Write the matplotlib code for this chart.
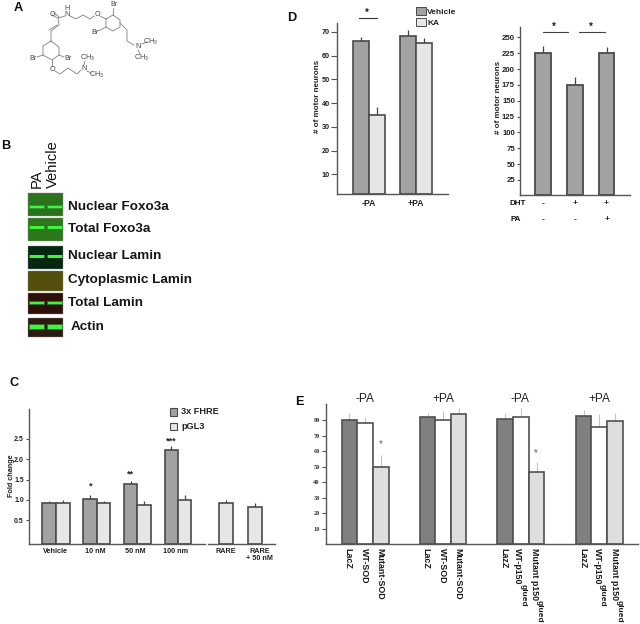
import matplotlib
matplotlib.use("Agg")
import matplotlib.pyplot as plt
from matplotlib.patches import Rectangle

plt.rcParams['font.family'] = ['Liberation Sans', 'DejaVu Sans']
plt.rcParams['mathtext.fontset'] = 'custom'
plt.rcParams['mathtext.rm'] = 'Liberation Sans'
plt.rcParams['mathtext.default'] = 'regular'

# ---------- data ----------
c_dark_labels = ['Vehicle', '10 nM', '50 nM', '100 nm']
c_fhre = [0.92, 1.03, 1.38, 2.22]
c_fhre_top = [0.97, 1.11, 1.47, 2.31]
c_pgl3 = [0.92, 0.92, 0.88, 1.01]
c_pgl3_top = [0.99, 0.97, 0.97, 1.12]
c_rare_labels = ['RARE', 'RARE\n+ 50 nM']
c_rare = [0.92, 0.84]
c_rare_top = [1.01, 0.93]
c_yticks = [0.5, 1.0, 1.5, 2.0, 2.5]

d1_labels = ['-PA', '+PA']
d1_vehicle = [66, 68.5]
d1_vehicle_top = [67.8, 70.8]
d1_ka = [35, 65.5]
d1_ka_top = [38.5, 67.3]
d1_yticks = [10, 20, 30, 40, 50, 60, 70]

d2_values = [225, 175, 225]
d2_top = [237, 188, 235]
d2_yticks = [25, 50, 75, 100, 125, 150, 175, 200, 225, 250]
d2_dht = ['-', '+', '+']
d2_pa = ['-', '-', '+']

e_labels_sod = ['LacZ', 'WT-SOD', 'Mutant-SOD']
e_labels_p150 = ['LazZ', 'WT-p150', 'Mutant p150']
e_superscript = 'glued'
e_sod_minus = [80, 78, 50]
e_sod_minus_top = [84.3, 81.7, 57.5]
e_sod_plus = [82, 80, 84]
e_sod_plus_top = [84.7, 86, 87.7]
e_p150_minus = [80.5, 82, 46.6]
e_p150_minus_top = [84.7, 87.5, 52.8]
e_p150_plus = [82.5, 75.7, 79.6]
e_p150_plus_top = [86.4, 83.9, 84.3]
e_yticks = [10, 20, 30, 40, 50, 60, 70, 80]

blot_labels = ['Nuclear Foxo3a', 'Total Foxo3a', 'Nuclear Lamin',
               'Cytoplasmic Lamin', 'Total Lamin', 'Actin']

# ---------- layout ----------
W, H = 640, 624
fig = plt.figure(figsize=(W / 100, H / 100), dpi=100, facecolor='white')

DARK, LIGHT, EDGE = '#a2a2a2', '#e6e6e6', '#4a4a4a'
E_DARK, E_LIGHT, E_EDGE = '#808080', '#dedede', '#505050'
AXC = '#555555'

ov = fig.add_axes([0, 0, 1, 1], zorder=10)
ov.set_xlim(0, W)
ov.set_ylim(H, 0)
ov.axis('off')
ov.patch.set_alpha(0)


def px_axes(x0, x1, ytop, ybot, vbot, vtop, left=True, ticklen=2.4):
    ax = fig.add_axes([x0 / W, 1 - ybot / H, (x1 - x0) / W, (ybot - ytop) / H])
    ax.set_xlim(x0, x1)
    ax.set_ylim(vbot, vtop)
    ax.patch.set_alpha(0)
    for s in ('top', 'right'):
        ax.spines[s].set_visible(False)
    for s in ('left', 'bottom'):
        ax.spines[s].set_color(AXC)
        ax.spines[s].set_linewidth(1.0)
    ax.spines['left'].set_visible(left)
    ax.tick_params(axis='x', length=0)
    ax.tick_params(axis='y', length=ticklen, width=0.8, color=AXC, pad=1.2)
    return ax


def bars(ax, edges, vals, tops, colors, edgecolor=EDGE, errc='#444444', elw=0.9, lw=1.2):
    base = ax.get_ylim()[0]
    for (a, b), v, t, c in zip(edges, vals, tops, colors):
        ax.bar((a + b) / 2, v - base, width=b - a, bottom=base,
               color=c, edgecolor=edgecolor, linewidth=lw, zorder=2)
        ax.errorbar((a + b) / 2, v, yerr=[[0], [t - v]], ecolor=errc, elinewidth=elw,
                    capsize=0, fmt='none', zorder=1)


def ylab(ax, text, xpx, ypx, size):
    ax.set_ylabel(text, fontsize=size, fontweight='bold', color='#222222')
    ax.yaxis.set_label_coords(xpx, ypx, transform=ov.transData)
    ax.yaxis.label.set_va('center')


for l, x, y in [('A', 18.8, 8.3), ('B', 6, 146), ('C', 14, 383), ('D', 292, 18), ('E', 299, 402)]:
    ov.text(x, y, l, fontsize=9.2, fontweight='bold', ha='center', va='center', color='#111111')

# ---------- A: structure ----------
bonds = [
    [(52, 15), (57, 18)], [(54, 13), (59, 17)],
    [(58, 18), (65, 16)], [(70, 16), (76, 19), (83, 15), (90, 19), (94, 16)],
    [(100, 16), (106, 19), (113, 15), (120, 20), (120, 27), (113, 31), (106, 27), (106, 19)],
    [(113, 15), (113, 8)], [(106, 27), (98, 31)],
    [(120, 23), (127, 30), (127, 41), (134, 45)], [(142, 44), (147, 42)], [(138, 50), (140, 54)],
    [(58, 18), (59, 25), (51, 31), (51, 41), (59, 47), (59, 55), (52, 60), (43, 55), (43, 46), (51, 41)],
    [(57, 25), (49, 30)],
    [(43, 55), (37, 57)], [(59, 55), (64, 57)], [(52, 60), (52, 66)],
    [(55, 71), (60, 74), (68, 68), (77, 74), (81, 70)], [(84, 65), (85, 61)], [(87, 71), (91, 73)],
]
for b in bonds:
    ov.plot([p[0] for p in b], [p[1] for p in b], color='#808080', lw=0.6)
chem = [('O', 52, 14.5), ('N', 67, 15), ('H', 67, 8.5), ('O', 97, 14.5), ('Br', 114, 4), ('Br', 95, 32),
        ('N', 138, 46.5), ('CH$_3$', 151, 42), ('CH$_3$', 142, 57.5),
        ('Br', 33.5, 58.5), ('Br', 68.5, 58.5), ('O', 52, 69.5),
        ('N', 84, 68.5), ('CH$_3$', 88, 57.5), ('CH$_3$', 97, 75)]
for t, x, y in chem:
    ov.text(x, y, t, fontsize=5.2, ha='center', va='center', color='#444444')

# ---------- B: blots ----------
blot_boxes = [(193.3, 216), (218.3, 241), (246, 268.7), (271.3, 291.3), (293.3, 314), (318.3, 337.3)]
blot_bg = ['#2b721c', '#2e781c', '#03280f', '#52500c', '#2c1109', '#2a1a10']
blot_band = [(207, 2.2), (227.5, 2.2), (256.5, 2.2), (None, 0), (303, 1.8), (327, 3.8)]
blot_text = [(67.5, 207), (67.5, 228.5), (68, 256), (68, 280), (68.5, 302.5), (71, 327)]
for lab, x in [('PA', 36.5), ('Vehicle', 53)]:
    ov.text(x, 187.5, lab, rotation=90, rotation_mode='anchor', fontsize=10.6,
            ha='left', va='center', color='#111111')
for (y0, y1), bg, (by, bh), lab, (tx, ty) in zip(blot_boxes, blot_bg, blot_band, blot_labels, blot_text):
    ov.add_patch(Rectangle((28.3, y0), 35, y1 - y0, fc=bg, ec='#888888', lw=0.3))
    if by:
        for xa, xb in [(30.3, 44.3), (47.7, 62)]:
            ov.add_patch(Rectangle((xa - 1, by - bh * 0.85), xb - xa + 2, bh * 1.7, fc='#3fb83a', ec='none', alpha=0.55))
            ov.add_patch(Rectangle((xa, by - bh / 2), xb - xa, bh, fc='#40f540', ec='none'))
    ov.text(tx, ty, lab, fontsize=9.7, fontweight='bold', ha='left', va='center', color='#161616')

# ---------- C ----------
c_ax = px_axes(29, 205, 409.3, 543.7, -0.07, 3.22)
c_pairs = [(42.3, 56, 69.7), (83, 96.7, 110.3), (123.7, 137.3, 151), (164.7, 178, 191.3)]
bars(c_ax, [(a, m) for a, m, _ in c_pairs], c_fhre, c_fhre_top, [DARK] * 4)
bars(c_ax, [(m, b) for _, m, b in c_pairs], c_pgl3, c_pgl3_top, [LIGHT] * 4)
c_ax.set_xticks([55.7, 95.7, 135.7, 175.7], c_dark_labels, fontsize=5.2, fontweight='bold', color='#222222')
c_ax.set_yticks(c_yticks, [f'{v:.1f}' for v in c_yticks], fontsize=5.0, fontweight='bold', color='#222222')
c_ax.tick_params(axis='x', pad=3)
ylab(c_ax, 'Fold change', 12, 476, 5.2)

c_ax2 = px_axes(208, 275, 409.3, 543.7, -0.07, 3.22, left=False)
bars(c_ax2, [(219.3, 233), (248.3, 262.3)], c_rare, c_rare_top, [LIGHT] * 2)
c_ax2.set_yticks([])
c_ax2.set_xticks([226, 259.7], c_rare_labels, fontsize=5.2, fontweight='bold', color='#222222', linespacing=1.0)
c_ax2.tick_params(axis='x', pad=3)
for s, x, y in [('*', 90.3, 486), ('**', 130.7, 474), ('***', 171.3, 441)]:
    ov.text(x, y, s, fontsize=6.5, fontweight='bold', ha='center', va='center', color='#222222')
for lab, y, c in [('3x FHRE', 412, DARK), ('pGL3', 426.5, LIGHT)]:
    ov.add_patch(Rectangle((170, y - 3.8), 6.5, 7.6, fc=c, ec=EDGE, lw=0.8))
    ov.text(181, y, lab, fontsize=6.6, fontweight='bold', ha='left', va='center', color='#222222')

# ---------- D left ----------
d1 = px_axes(337.3, 447.7, 22.7, 194.3, 1.57, 73.9, ticklen=4.2)
bars(d1, [(353.3, 369), (400.3, 416.3)], d1_vehicle, d1_vehicle_top, [DARK] * 2)
bars(d1, [(369, 384.7), (416.3, 432.3)], d1_ka, d1_ka_top, [LIGHT] * 2)
d1.set_xticks([369, 416.3], d1_labels, fontsize=6.2, fontweight='bold', color='#222222')
d1.set_yticks(d1_yticks, [str(v) for v in d1_yticks], fontsize=5.2, fontweight='bold', color='#222222')
d1.tick_params(axis='x', pad=3.5)
ylab(d1, '# of motor neurons', 317.5, 96, 5.8)
ov.plot([359, 376.7], [18, 18], color='#333333', lw=0.8)
ov.text(367, 13, '*', fontsize=7, fontweight='bold', ha='center', va='center', color='#222222')
for lab, y, c in [('Vehicle', 11.3, DARK), ('KA', 21.7, LIGHT)]:
    ov.add_patch(Rectangle((416.3, y - 4), 9.3, 8, fc=c, ec=EDGE, lw=0.7))
    ov.text(427, y + 1.5, lab, fontsize=6.0, fontweight='bold', ha='left', va='center', color='#222222')

# ---------- D right ----------
d2 = px_axes(520, 630, 27.3, 195.3, 0.8, 266)
bars(d2, [(535.3, 551.3), (566.7, 582.7), (598.7, 614.3)], d2_values, d2_top, [DARK] * 3, lw=1.3)
d2.set_xticks([])
d2.set_yticks(d2_yticks, [str(v) for v in d2_yticks], fontsize=5.6, fontweight='bold', color='#222222')
ylab(d2, '# of motor neurons', 499, 97, 5.8)
for xa, xb in [(542.7, 568), (579.3, 604.7)]:
    ov.plot([xa, xb], [31.7, 31.7], color='#444444', lw=0.8)
    ov.text((xa + xb) / 2 - 1, 27, '*', fontsize=7, fontweight='bold', ha='center', va='center', color='#222222')
ov.text(518, 203.7, 'DHT', fontsize=5.8, fontweight='bold', ha='center', va='center', color='#111111')
ov.text(515.5, 219.3, 'PA', fontsize=5.8, fontweight='bold', ha='center', va='center', color='#111111')
for s, x in zip(d2_dht, [542.7, 575, 606]):
    ov.text(x, 203.7, s, fontsize=6, fontweight='bold', ha='center', va='center', color='#222222')
for s, x in zip(d2_pa, [542.7, 575, 607.5]):
    ov.text(x, 219.3, s, fontsize=6, fontweight='bold', ha='center', va='center', color='#222222')

# ---------- E ----------
e = px_axes(325.7, 638, 404, 544.3, 0.17, 90.3, ticklen=3)
e_cols = [E_DARK, 'white', E_LIGHT]
groups = [
    ([(341.7, 357), (357, 372.7), (372.7, 388.7)], e_sod_minus, e_sod_minus_top, e_labels_sod, [348, 364.3, 380]),
    ([(419.7, 435.3), (435.3, 450.7), (450.7, 466.3)], e_sod_plus, e_sod_plus_top, e_labels_sod, [426, 442.7, 458]),
    ([(497.3, 513), (513, 528.7), (528.7, 544.3)], e_p150_minus, e_p150_minus_top, e_labels_p150, [504, 517.7, 534]),
    ([(575.7, 591.3), (591.3, 606.7), (606.7, 622.7)], e_p150_plus, e_p150_plus_top, e_labels_p150, [582.7, 597.3, 615]),
]
for edges, vals, tops, labs, lab_x in groups:
    bars(e, edges, vals, tops, e_cols, edgecolor=E_EDGE, errc='#c4c4c4', elw=0.8, lw=1.2)
    for x, lab in zip(lab_x, labs):
        ov.text(x, 548, lab, rotation=270, fontsize=6.4, fontweight='bold',
                ha='center', va='top', color='#1a1a1a')
for x, y in [(522.7, 584.5), (539, 600.5), (602, 584.5), (619.5, 600.5)]:
    ov.text(x, y, e_superscript, rotation=270, fontsize=6.0, fontweight='bold',
            ha='center', va='top', color='#1a1a1a')
e.set_xticks([])
e.set_yticks(e_yticks, [str(v) for v in e_yticks], fontsize=4.6, fontweight='bold',
             family='Liberation Serif', color='#333333')
for t, x in [('-PA', 365), ('+PA', 443), ('-PA', 519.5), ('+PA', 599)]:
    ov.text(x, 399, t, fontsize=8.6, ha='center', va='center', color='#222222')
ov.text(380.5, 444, '*', fontsize=7, ha='center', va='center', color='#666666')
ov.text(536, 453, '*', fontsize=7, ha='center', va='center', color='#666666')

fig.savefig('out.png', dpi=100, facecolor='white')
